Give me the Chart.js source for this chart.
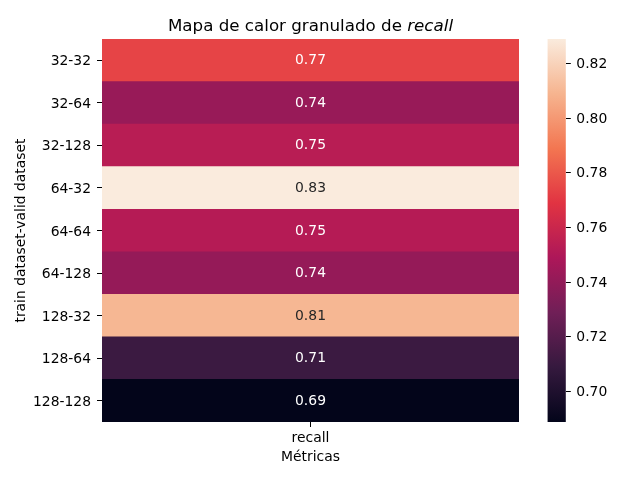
<!DOCTYPE html>
<html>
<head>
<meta charset="utf-8">
<script src="https://cdn.jsdelivr.net/npm/chart.js@4/dist/chart.umd.min.js"></script>
<style>
  html, body { margin: 0; padding: 0; background: #fff; }
  #wrap { position: relative; width: 640px; height: 480px; background: #fff; }
  #main { position: absolute; left: 0; top: 0; }
  #cbar { position: absolute; left: 520px; top: 0; }
</style>
</head>
<body>
<div id="wrap">
  <canvas id="main" width="640" height="480"></canvas>
  <canvas id="cbar" width="120" height="480"></canvas>
</div>
<script>
// ---- data ----
const rows = ['32-32', '32-64', '32-128', '64-32', '64-64', '64-128', '128-32', '128-64', '128-128'];
const metrics = ['recall'];
const recall = [0.774, 0.742, 0.753, 0.829, 0.752, 0.741, 0.810, 0.711, 0.6888];
const cbarTicks = [0.70, 0.72, 0.74, 0.76, 0.78, 0.80, 0.82];
const titleMain = 'Mapa de calor granulado de ';
const titleItalic = 'recall';
const yTitle = 'train dataset-valid dataset';
const xTitle = 'Métricas';

// ---- rocket colormap anchors ----
const rocketStops = [
  [0.000, [3, 5, 26]],
  [1/7, [53, 25, 62]],
  [2/7, [112, 31, 87]],
  [3/7, [173, 23, 89]],
  [4/7, [225, 51, 66]],
  [5/7, [243, 118, 81]],
  [6/7, [246, 180, 143]],
  [1.000, [250, 235, 221]]
];
function rocket(t) {
  t = Math.max(0, Math.min(1, t));
  for (let i = 1; i < rocketStops.length; i++) {
    const [t1, c1] = rocketStops[i];
    const [t0, c0] = rocketStops[i - 1];
    if (t <= t1) {
      const f = (t - t0) / (t1 - t0);
      return c0.map((c, k) => Math.round(c + (c1[k] - c) * f));
    }
  }
  return rocketStops[rocketStops.length - 1][1];
}
const vmin = Math.min(...recall);
const vmax = Math.max(...recall);
const norm = v => (v - vmin) / (vmax - vmin);
const rgb = c => `rgb(${c[0]},${c[1]},${c[2]})`;
const cellColors = recall.map(v => rgb(rocket(norm(v))));
const textColors = recall.map(v => {
  const c = rocket(norm(v)).map(x => {
    x /= 255;
    return x <= 0.03928 ? x / 12.92 : Math.pow((x + 0.055) / 1.055, 2.4);
  });
  const lum = 0.2126 * c[0] + 0.7152 * c[1] + 0.0722 * c[2];
  return lum > 0.408 ? '#262626' : '#ffffff';
});

Chart.defaults.font.family = "'DejaVu Sans', sans-serif";
Chart.defaults.color = '#000';
const FS = 13.9;

const annotate = {
  id: 'annotate',
  afterDatasetsDraw(chart) {
    const { ctx, scales: { x, y } } = chart;
    ctx.save();
    ctx.font = `${FS}px 'DejaVu Sans'`;
    ctx.textAlign = 'center';
    ctx.textBaseline = 'middle';
    recall.forEach((v, i) => {
      ctx.fillStyle = textColors[i];
      ctx.fillText(v.toFixed(2), x.getPixelForValue(0.5), y.getPixelForValue(i) + 0.5);
    });
    ctx.restore();
  }
};

const titlePlugin = {
  id: 'mixedTitle',
  afterDraw(chart) {
    const { ctx, chartArea } = chart;
    ctx.save();
    const normalFont = "16.7px 'DejaVu Sans'";
    const italicFont = "italic 16.7px 'DejaVu Sans'";
    ctx.font = normalFont;
    const w1 = ctx.measureText(titleMain).width;
    ctx.font = italicFont;
    const w2 = ctx.measureText(titleItalic).width;
    const cx = (chartArea.left + chartArea.right) / 2;
    let xs = cx - (w1 + w2) / 2;
    ctx.fillStyle = '#000';
    ctx.textBaseline = 'alphabetic';
    ctx.textAlign = 'left';
    ctx.font = normalFont;
    ctx.fillText(titleMain, xs, 31);
    ctx.font = italicFont;
    ctx.fillText(titleItalic, xs + w1, 31);
    ctx.restore();
  }
};

new Chart(document.getElementById('main'), {
  type: 'bar',
  data: {
    labels: rows,
    datasets: [{
      data: recall.map(() => [0, 1]),
      backgroundColor: cellColors,
      borderWidth: 0,
      barPercentage: 1,
      categoryPercentage: 1
    }]
  },
  options: {
    indexAxis: 'y',
    responsive: false,
    animation: false,
    layout: { padding: { left: 0, top: 39, right: 121, bottom: 0 } },
    plugins: { legend: { display: false }, tooltip: { enabled: false }, title: { display: false } },
    scales: {
      x: {
        type: 'linear', min: 0, max: 1,
        afterBuildTicks: s => { s.ticks = [{ value: 0.5 }]; },
        afterFit: s => { s.height = 58; },
        ticks: { callback: () => metrics[0], font: { size: FS }, padding: 3, maxRotation: 0 },
        grid: { drawOnChartArea: false, drawTicks: true, tickLength: 5, color: '#000', lineWidth: 1 },
        border: { display: false },
        title: { display: true, text: xTitle, font: { size: FS }, padding: { top: 0, bottom: 14.2 } }
      },
      y: {
        type: 'category',
        afterFit: s => { s.width = 102; },
        ticks: { font: { size: FS }, padding: 6, autoSkip: false, labelOffset: 1.5 },
        grid: { offset: false, drawOnChartArea: false, drawTicks: true, tickLength: 5, color: '#000', lineWidth: 1 },
        border: { display: false },
        title: { display: true, text: yTitle, font: { size: FS }, padding: { top: 13, bottom: 0 } }
      }
    }
  },
  plugins: [annotate, titlePlugin]
});

new Chart(document.getElementById('cbar'), {
  type: 'bar',
  data: {
    labels: [''],
    datasets: [{
      data: [[vmin, vmax]],
      backgroundColor: (c) => {
        const chart = c.chart;
        const ys = chart.scales.y;
        if (!ys || !chart.chartArea) return '#888';
        const g = chart.ctx.createLinearGradient(0, ys.getPixelForValue(vmin), 0, ys.getPixelForValue(vmax));
        rocketStops.forEach(([t, col]) => g.addColorStop(t, rgb(col)));
        return g;
      },
      borderWidth: 0,
      barPercentage: 1,
      categoryPercentage: 1
    }]
  },
  options: {
    responsive: false,
    animation: false,
    layout: { padding: { left: 27.5, top: 39, right: 0, bottom: 58 } },
    plugins: { legend: { display: false }, tooltip: { enabled: false } },
    scales: {
      x: { display: false },
      y: {
        position: 'right',
        min: vmin, max: vmax,
        afterBuildTicks: s => { s.ticks = cbarTicks.map(v => ({ value: v })); },
        afterFit: s => { s.width = 74.2; },
        ticks: { callback: v => Number(v).toFixed(2), font: { size: FS }, padding: 5.5, labelOffset: 1 },
        grid: { drawOnChartArea: false, drawTicks: true, tickLength: 5, color: '#000', lineWidth: 1 },
        border: { display: false }
      }
    }
  }
});
</script>
</body>
</html>
